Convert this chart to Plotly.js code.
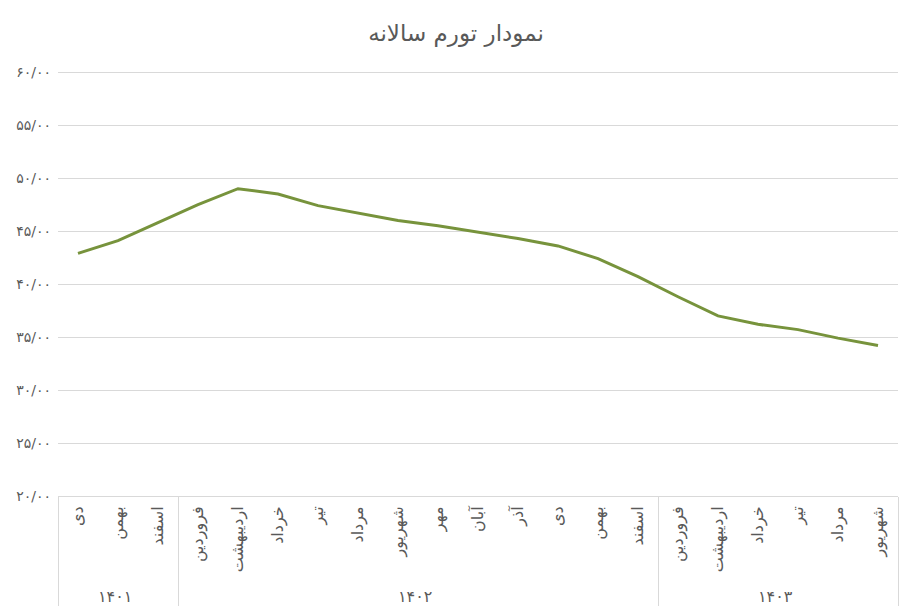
<!DOCTYPE html>
<html>
<head>
<meta charset="utf-8">
<script src="https://cdn.plot.ly/plotly-3.0.1.min.js"></script>
<style>html,body{margin:0;padding:0;background:#fff;}#chart{width:912px;height:609px;}</style>
</head>
<body>
<div id="chart"></div>
<script>
const years = ['۱۴۰۱','۱۴۰۱','۱۴۰۱',
  '۱۴۰۲','۱۴۰۲','۱۴۰۲','۱۴۰۲','۱۴۰۲','۱۴۰۲','۱۴۰۲','۱۴۰۲','۱۴۰۲','۱۴۰۲','۱۴۰۲','۱۴۰۲',
  '۱۴۰۳','۱۴۰۳','۱۴۰۳','۱۴۰۳','۱۴۰۳','۱۴۰۳'];
const months = ['دی','بهمن','اسفند',
  'فروردین','اردیبهشت','خرداد','تیر','مرداد','شهریور','مهر','آبان','آذر','دی','بهمن','اسفند',
  'فروردین','اردیبهشت','خرداد','تیر','مرداد','شهریور'];
const inflation = [42.9, 44.1, 45.8, 47.5, 49.0, 48.5, 47.4, 46.7, 46.0, 45.5, 44.9, 44.3, 43.6, 42.4, 40.7, 38.8, 37.0, 36.2, 35.7, 34.9, 34.2];
const yTickVals = [20, 25, 30, 35, 40, 45, 50, 55, 60];
const yTickText = ['۲۰/۰۰','۲۵/۰۰','۳۰/۰۰','۳۵/۰۰','۴۰/۰۰','۴۵/۰۰','۵۰/۰۰','۵۵/۰۰','۶۰/۰۰'];
const titleText = 'نمودار تورم سالانه';

// make repeated month names unique (invisible zero-width suffix) so that
// Plotly keeps the chronological order inside each year group
const seenCount = {};
const monthKeys = months.map(m => {
  const c = seenCount[m] || 0;
  seenCount[m] = c + 1;
  return m + '\u200B'.repeat(c);
});

const trace = {
  type: 'scatter', mode: 'lines',
  x: [years, monthKeys], y: inflation,
  line: {color: '#77933C', width: 3},
  hoverinfo: 'y'
};
const layout = {
  width: 912, height: 609,
  margin: {l: 58, r: 14, t: 70, b: 113},
  paper_bgcolor: '#fff', plot_bgcolor: '#fff',
  font: {family: 'DejaVu Sans, sans-serif', color: '#595959', size: 12},
  title: {text: titleText, x: 0.5, xanchor: 'center', xref: 'container',
          y: 1 - 33 / 609, yref: 'container', yanchor: 'middle',
          font: {size: 23, color: '#595959', family: 'DejaVu Sans, sans-serif'}},
  showlegend: false,
  xaxis: {
    type: 'multicategory',
    range: [-0.5, months.length - 0.5],
    tickangle: -90,
    showline: true, linecolor: '#d9d9d9', linewidth: 1,
    showgrid: false, zeroline: false,
    ticks: '',
    ticklabelstandoff: 3,
    showdividers: true, dividercolor: '#d9d9d9', dividerwidth: 1,
    tickfont: {size: 16, color: '#595959'}
  },
  yaxis: {
    range: [20, 60.2], tickvals: yTickVals, ticktext: yTickText,
    showgrid: true, gridcolor: '#d9d9d9', gridwidth: 1,
    zeroline: false, showline: false, ticks: '',
    ticklabelstandoff: 6,
    tickfont: {size: 14, color: '#595959'}
  }
};
Plotly.newPlot('chart', [trace], layout, {displayModeBar: false, staticPlot: true});
</script>
</body>
</html>
